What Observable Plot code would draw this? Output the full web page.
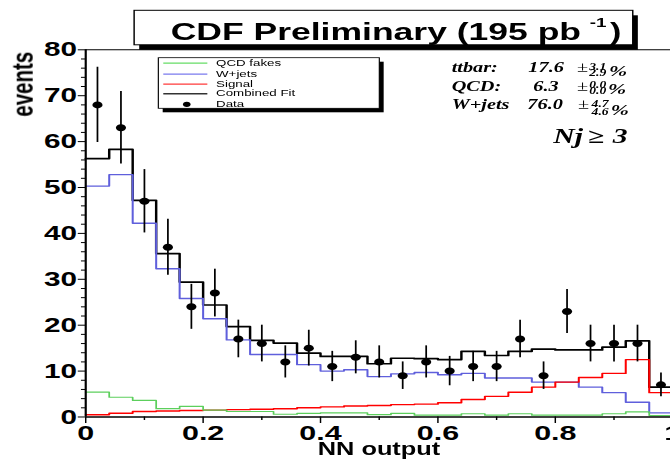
<!DOCTYPE html>
<html><head><meta charset="utf-8">
<script src="https://cdn.jsdelivr.net/npm/d3@7"></script>
<script src="https://cdn.jsdelivr.net/npm/@observablehq/plot@0.6"></script>
<style>
html,body{margin:0;padding:0;background:#fff;overflow:hidden;width:670px;height:459px;}
#wrap{position:absolute;left:0;top:0;transform-origin:0 0;}
</style></head><body><div id="wrap"></div>
<script>
// ---------------- data (25 bins of width 0.04 on NN output 0..1) ----------------
const binWidth = 0.04;
const qcdFakes = [5.4, 4.3, 3.6, 1.8, 2.3, 1.5, 1.2, 1.2, 0.6, 0.8, 0.9, 0.9, 0.5, 0.8, 0.4, 0.4, 0.7, 0.4, 0.7, 0.4, 0.4, 0.4, 0.7, 1.1, 0.3];
const wjets    = [50.3, 52.8, 42.2, 32.3, 25.8, 21.4, 16.8, 13.6, 13.6, 11.4, 10.0, 10.3, 8.8, 9.4, 9.7, 9.2, 9.5, 8.5, 8.5, 7.6, 7.6, 6.5, 5.3, 3.2, 0.9];
const signal   = [0.5, 0.8, 1.2, 1.3, 1.4, 1.5, 1.6, 1.7, 1.8, 2.0, 2.2, 2.4, 2.5, 2.7, 2.8, 3.1, 3.8, 4.5, 5.4, 6.5, 7.6, 8.6, 9.5, 12.5, 5.3];
const combined = [56.3, 58.3, 47.2, 35.6, 29.4, 24.4, 19.7, 16.7, 16.1, 13.9, 13.2, 13.2, 11.6, 12.8, 12.7, 12.5, 14.3, 13.4, 14.3, 14.8, 14.6, 14.6, 15.2, 16.6, 6.5];
const dataCounts = [68, 63, 47, 37, 24, 27, 17, 16, 12, 15, 11, 13, 12, 9, 12, 10, 11, 11, 17, 9, 23, 16, 16, 16, 7];
const dataErrors = [8.2, 7.9, 6.9, 6.1, 4.9, 5.2, 4.1, 4.0, 3.5, 3.9, 3.3, 3.6, 3.5, 3.0, 3.5, 3.2, 3.3, 3.3, 4.1, 3.0, 4.8, 4.0, 4.0, 4.0, 2.6];

const xMajorTicks = [0, 0.2, 0.4, 0.6, 0.8, 1];
const xMinorTicks = [0.1, 0.3, 0.5, 0.7, 0.9];
const yMajorTicks = [0, 10, 20, 30, 40, 50, 60, 70, 80];
const yMinorTicks = [2,4,6,8,12,14,16,18,22,24,26,28,32,34,36,38,42,44,46,48,52,54,56,58,62,64,66,68,72,74,76,78];

const legendLabels = ["QCD fakes", "W+jets", "Signal", "Combined Fit", "Data"];
const fitLabels = ["ttbar:", "QCD:", "W+jets"];
const fitValues = ["17.6", "6.3", "76.0"];
const fitUp = ["3.1", "0.0", "4.7"];
const fitDown = ["2.9", "0.0", "4.6"];
const titleText = "CDF Preliminary (195 pb";
const titleSup = "-1";

// ---------------- layout (chart drawn narrow, then stretched horizontally) ----------------
const S = 1.45;
const W = 670 / S;
const X0 = 85 / S, X1 = 672 / S;
const Y80 = 49.3, Y0 = 416.5, H = 459;
const pxPerY = (Y0 - Y80) / 80;
const pxPerX = (X1 - X0);

const colors = {qcd: "#5ccf5c", wjets: "#5f5fdc", signal: "#ff0000", combined: "#000000"};

function steps(vals) {
  const pts = vals.map((v, i) => ({x: i * binWidth, y: v}));
  pts.push({x: vals.length * binWidth, y: vals[vals.length - 1]});
  return pts;
}
const dataRows = dataCounts.map((n, i) => ({x: (i + 0.5) * binWidth, n, e: dataErrors[i]}));

const chart = Plot.plot({
  width: W, height: H,
  marginLeft: X0, marginRight: W - X1, marginTop: Y80, marginBottom: H - Y0,
  style: {fontFamily: "'Liberation Sans', Arial, sans-serif", background: "white"},
  x: {domain: [0, 1], ticks: xMajorTicks, tickSize: 6.5, tickPadding: 2, label: null,
      tickFormat: d => (d === 0 ? "0" : d === 1 ? "1" : d.toFixed(1))},
  y: {domain: [0, 80], ticks: yMajorTicks, tickSize: 5, tickPadding: 1, label: null,
      tickFormat: d => String(d)},
  marks: [
    Plot.ruleX(xMinorTicks, {y1: 0, y2: -3.5 / pxPerY, stroke: "black", strokeWidth: 1}),
    Plot.ruleY(yMinorTicks, {x1: 0, x2: -2.8 / pxPerX, stroke: "black", strokeWidth: 1}),
    Plot.line(steps(combined), {x: "x", y: "y", curve: "step-after", stroke: colors.combined, strokeWidth: 1.7}),
    Plot.line(steps(wjets), {x: "x", y: "y", curve: "step-after", stroke: colors.wjets, strokeWidth: 1.4}),
    Plot.line(steps(signal), {x: "x", y: "y", curve: "step-after", stroke: colors.signal, strokeWidth: 1.4}),
    Plot.line(steps(qcdFakes), {x: "x", y: "y", curve: "step-after", stroke: colors.qcd, strokeWidth: 1.2}),
    Plot.ruleX(dataRows, {x: "x", y1: d => d.n - d.e, y2: d => d.n + d.e, stroke: "black", strokeWidth: 1.2}),
    Plot.dot(dataRows, {x: "x", y: "n", r: 3.5, fill: "black", stroke: "none"}),
    Plot.ruleX([0], {stroke: "black", strokeWidth: 1.5}),
    Plot.ruleY([0], {stroke: "black", strokeWidth: 1.5}),
    Plot.ruleY([80], {stroke: "black", strokeWidth: 1})
  ]
});

const wrap = document.getElementById("wrap");
wrap.style.width = W + "px";
wrap.style.transform = `scaleX(${S})`;
wrap.appendChild(chart);

const svg = d3.select(chart.tagName.toLowerCase() === "svg" ? chart : chart.querySelector("svg"));
svg.style("overflow", "visible");
svg.selectAll('[aria-label^="y-axis"] text').attr("font-size", 20.5).attr("font-weight", "bold").attr("fill", "black");
svg.selectAll('[aria-label^="x-axis"] text').attr("font-size", 21).attr("font-weight", "bold").attr("fill", "black");
svg.selectAll('[aria-label^="x-axis"] line, [aria-label^="y-axis"] line').attr("stroke", "black");

const sans = "'Liberation Sans', Arial, sans-serif";
const serif = "'Liberation Serif', 'Times New Roman', serif";
const deco = svg.append("g").attr("text-anchor", "start");

// axis titles
deco.append("text").text("events")
  .attr("transform", `translate(${22.8},${51.7}) rotate(-90)`)
  .attr("text-anchor", "end").attr("font-family", sans).attr("font-weight", "bold").attr("font-size", 20.5);
deco.append("text").text("NN output")
  .attr("x", 379 / S).attr("y", 455).attr("text-anchor", "middle")
  .attr("font-family", sans).attr("font-weight", "bold").attr("font-size", 17.5);

// title box
const tb = {x: 92.5, y: 10.3, w: 343.9, h: 34.5};
deco.append("rect").attr("x", tb.x + 3.5).attr("y", tb.y + 5).attr("width", tb.w).attr("height", tb.h).attr("fill", "black");
deco.append("rect").attr("x", tb.x).attr("y", tb.y).attr("width", tb.w).attr("height", tb.h).attr("fill", "white").attr("stroke", "black").attr("stroke-width", 1);
deco.append("text").text(titleText).attr("x", 117.7).attr("y", 39.6).attr("text-anchor", "start")
  .attr("textLength", (581 - 170.6) / S).attr("lengthAdjust", "spacingAndGlyphs")
  .attr("font-family", sans).attr("font-weight", "bold").attr("font-size", 23.5);
deco.append("text").text(titleSup).attr("x", 406.7).attr("y", 27.5).attr("text-anchor", "start")
  .attr("font-family", sans).attr("font-weight", "bold").attr("font-size", 13);
deco.append("text").text(")").attr("x", 420.7).attr("y", 39.6).attr("text-anchor", "start")
  .attr("font-family", sans).attr("font-weight", "bold").attr("font-size", 23.5);

// legend
const lb = {x: 109.2, y: 57.7, w: 152.4, h: 50.6};
deco.append("rect").attr("x", lb.x + 3).attr("y", lb.y + 4).attr("width", lb.w).attr("height", lb.h).attr("fill", "black");
deco.append("rect").attr("x", lb.x).attr("y", lb.y).attr("width", lb.w).attr("height", lb.h).attr("fill", "white").attr("stroke", "black").attr("stroke-width", 0.8);
const legRows = [62.3, 73.3, 83.3, 93.0, 103.3];
const legLineColors = ["#66dd66", "#7a7aee", "#ff3a3a", "#333333"];
legendLabels.forEach((lab, i) => {
  const yy = legRows[i];
  if (i < 4) {
    deco.append("line").attr("x1", 112.6).attr("x2", 143.0).attr("y1", yy + 0.8).attr("y2", yy + 0.8)
      .attr("stroke", legLineColors[i]).attr("stroke-width", i === 3 ? 1.6 : 1.1);
  } else {
    deco.append("circle").attr("cx", 128.8).attr("cy", yy + 1).attr("r", 2.6).attr("fill", "black");
  }
  deco.append("text").text(lab).attr("x", 149).attr("y", yy).attr("dy", "0.36em").attr("text-anchor", "start")
    .attr("font-family", sans).attr("font-size", 9.2);
});

// fit results: one text element per row, parts placed with tspans
const rowBase = [72.3, 91.5, 109.3];
const supBase = [69.6, 87.9, 107.3];
const subBase = [76.3, 94.0, 114.7];
const valX = [364.4, 367.8, 363.7];
const pmX = [398.0, 398.0, 398.7];
const supX = [406.4, 406.4, 408.0];
const pctX = [420.0, 419.3, 421.3];
fitLabels.forEach((lab, i) => {
  const t = deco.append("text").attr("text-anchor", "start")
    .attr("font-family", serif).attr("font-weight", "bold").attr("font-style", "italic").attr("font-size", 14);
  const part = (s, x, y, fs, extra) => {
    const sp = t.append("tspan").text(s).attr("x", x).attr("y", y).attr("font-size", fs);
    if (extra) sp.attr("font-weight", "normal").attr("font-style", "normal");
  };
  part(lab, 311.5, rowBase[i], 14);
  part(fitValues[i], valX[i], rowBase[i], 14);
  part("\u00b1", pmX[i], rowBase[i], 14, true);
  part(fitUp[i], supX[i], supBase[i], 9.4);
  part(fitDown[i], supX[i], subBase[i], 9.4);
  part("%", pctX[i], subBase[i], 15);
});
const nj = deco.append("text").attr("text-anchor", "start").attr("y", 143.3)
  .attr("font-family", serif).attr("font-weight", "bold").attr("font-style", "italic").attr("font-size", 20.5);
nj.append("tspan").text("Nj").attr("x", 381.6);
nj.append("tspan").text("\u2265").attr("x", 405.3);
nj.append("tspan").text("3").attr("x", 422.6);
</script></body></html>
